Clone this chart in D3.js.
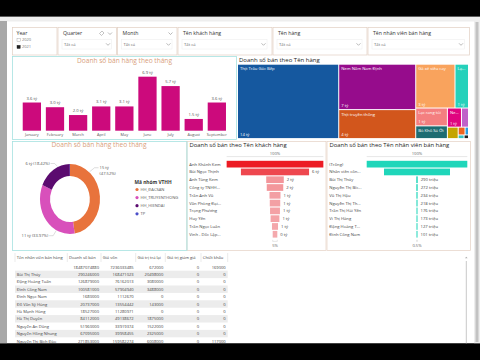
<!DOCTYPE html>
<html><head><meta charset="utf-8">
<script src="https://cdn.jsdelivr.net/npm/d3@7"></script>
<style>
html,body{margin:0;padding:0;background:#000;overflow:hidden}
svg{display:block}
</style></head><body>
<svg id="c" width="480" height="360"></svg>
<script>
// ---------------- DATA ----------------
const months = ["January","February","March","April","May","June","July","August","September"];
const monthSales = [3.6, 3.0, 2.0, 3.1, 3.1, 6.9, 5.7, 1.5, 3.6]; // tỷ

const products = ["Thịt Trâu Gác Bếp","Nem Nấm Nam Định","Thịt truyền thống","Gà xé siêu cay","Lạp xưởng","Lạc rang tỏi","Bò Khô Sả Ớt","Nem chua","Chả mực","Chà bông","Khô gà","Ruốc","Trà","Khác"];
const productSales = [14, 6.5, 4.15, 3.2, 1.1, 1.05, 0.75, 0.5, 0.25, 0.23, 0.1, 0.05, 0.04, 0.03]; // tỷ
const productColors = ["#15589f","#960c8c","#d2561c","#f9a35d","#25d1bb","#f47f80","#1e6c72","#e0047f","#c062c8","#c4a400","#ee641e","#2a9ee0","#33c5c5","#222222"];

const groups = ["HH_ĐACSAN","HH_TRUYENTHONG","HH_HIENDAI","TP"];
const groupSales = [15, 11, 6, 0.03]; // tỷ
const groupShare = [47.52, 33.97, 18.42, 0.09]; // %
const groupColors = ["#e8733c","#d850bb","#5b0b6f","#4b4fc9"];

const customers = ["Anh Khánh Kem","Bùi Ngọc Thịnh","Anh Tùng Kem","Công ty TNHH...","Trần Anh Vũ","Văn Phòng Đại...","Trọng Phương","Huy Yến","Trần Ngọc Luân","Vinh - Dốc Lập..."];
const customerSales = [8.8, 6.2, 1.6, 1.5, 1.0, 0.95, 0.9, 0.8, 0.55, 0.42]; // tỷ

const staff = ["(Trống)","Nhân viên côn...","Bùi Thị Thủy","Nguyễn Thị Bíc...","Vũ Thị Hậu","Nguyễn Thị Th...","Trần Thị Hải Yến","Vi Thị Hằng","Đặng Hoàng T...","Đinh Công Nam"];
const staffSales = [20000, 13120, 290, 272, 234, 218, 176, 173, 127, 101]; // triệu

const tableHeaders = ["Tên nhân viên bán hàng","Doanh số bán","Giá vốn","Giá trị trả lại","Giá trị giảm giá","Chiết khấu"];
const tableTotal = ["", "18487074880", "7236033485", "672000", "0", "169000"];
const tableNames = ["Bùi Thị Thủy","Đặng Hoàng Tuấn","Đinh Công Nam","Đinh Ngọc Nam","Đỗ Văn Sỹ Hùng","Hà Mạnh Hùng","Hà Thị Duyên","Nguyễn An Dũng","Nguyễn Hồng Nhung","Nguyễn Thị Bích Đào"];
const tableRevenue = [290246000, 126879000, 100581000, 1680000, 20737000, 18527000, 84112000, 51960000, 67095000, 271853000];
const tableCost = [168471023, 76162013, 57904940, 1112670, 13554442, 11280971, 49138672, 33919374, 39958455, 159582274];
const tableReturn = [20498000, 3080000, 3488000, 0, 143000, 0, 1875000, 1522000, 2325000, 6008000];
const tableDiscount = [0, 0, 0, 0, 0, 0, 0, 0, 0, 0];
const tableRebate = [0, 0, 0, 0, 0, 0, 0, 0, 0, 117000];

const slicerTitles = ["Quarter","Month","Tên khách hàng","Tên hàng","Tên nhân viên bán hàng"];
const years = ["2020","2021"];

// ---------------- HELPERS ----------------
const FONT = '"Segoe UI","Open Sans","Noto Sans",sans-serif';
const svg = d3.select("#c").style("font-family", FONT);
function txt(g, x, y, s, size, color, anchor, weight) {
  return g.append("text").attr("x", x).attr("y", y).text(s)
    .attr("font-size", size).attr("fill", color)
    .attr("text-anchor", anchor || "start").attr("font-weight", weight || "normal");
}
function chevron(g, x, y) {
  g.append("path").attr("d", `M${x-2},${y-1}L${x},${y+1}L${x+2},${y-1}`)
    .attr("fill", "none").attr("stroke", "#8a8a8a").attr("stroke-width", 0.6);
}

// ---------------- BACKGROUND ----------------
svg.append("rect").attr("width", 480).attr("height", 360).attr("fill", "#000");
svg.append("rect").attr("x", 0).attr("y", 16.5).attr("width", 480).attr("height", 327).attr("fill", "#fff");
svg.append("rect").attr("x", 0).attr("y", 16.5).attr("width", 480).attr("height", 5).attr("fill", "#eeeeee");
svg.append("rect").attr("x", 0).attr("y", 21).attr("width", 7).attr("height", 322.5).attr("fill", "#a8a8a8");
svg.append("rect").attr("x", 474).attr("y", 21).attr("width", 6).attr("height", 322.5).attr("fill", "#ededed");
svg.append("rect").attr("x", 475.5).attr("y", 22).attr("width", 3).attr("height", 320).attr("fill", "#c2c2c2");

// ---------------- SLICERS ----------------
const slicerG = svg.append("g");
const slicerEdges = [12, 57.5, 117, 177.5, 272.5, 367.5, 470];
slicerEdges.slice(0, -1).forEach((x0, i) => {
  const x1 = slicerEdges[i + 1];
  slicerG.append("rect").attr("x", x0 + 0.5).attr("y", 27.5).attr("width", x1 - x0 - 1).attr("height", 27.5)
    .attr("fill", "#fff").attr("stroke", "#e2cfc2").attr("stroke-width", 0.7);
});
// Year slicer
txt(slicerG, 16.5, 35, "Year", 5.2, "#333");
years.forEach((y, i) => {
  slicerG.append("rect").attr("x", 17).attr("y", 38.3 + i * 7).attr("width", 3.2).attr("height", 3.2)
    .attr("fill", i === 1 ? "#222" : "#fff").attr("stroke", i === 1 ? "#222" : "#999").attr("stroke-width", 0.4);
  txt(slicerG, 22, 41.3 + i * 7, y, 4, "#777");
});
slicerTitles.forEach((t, i) => {
  const x0 = slicerEdges[i + 1], x1 = slicerEdges[i + 2];
  txt(slicerG, x0 + 5.5, 35, t, 5.2, "#333");
  slicerG.append("rect").attr("x", x0 + 4.5).attr("y", 39.5).attr("width", x1 - x0 - 10).attr("height", 9.5)
    .attr("fill", "none").attr("stroke", "#ececec").attr("stroke-width", 0.5);
  txt(slicerG, x0 + 6.5, 45.8, "Tất cả", 4.2, "#666");
  chevron(slicerG, x1 - 9, 44.3);
  if (i < 2) chevron(slicerG, x1 - 7, 33.5);
});
// eraser icon on Quarter
slicerG.append("path").attr("d", "M99.5,33.5l2.5,-2.5l2,2l-2.5,2.5z").attr("fill", "none").attr("stroke", "#888").attr("stroke-width", 0.5);

// ---------------- BAR CHART ----------------
const barG = svg.append("g");
barG.append("rect").attr("x", 12.5).attr("y", 56.5).attr("width", 224).attr("height", 83)
  .attr("fill", "#fff").attr("stroke", "#a6e2e0").attr("stroke-width", 0.8);
txt(barG, 124.5, 63.3, "Doanh số bán hàng theo tháng", 6.6, "#d8a07c", "middle");
const xb = d3.scaleBand().domain(months).range([20.3, 228.4]).paddingInner(0.21).paddingOuter(0.105);
const yb = d3.scaleLinear().domain([0, 7]).range([130.7, 75.9]);
barG.selectAll("rect.bar").data(months).join("rect").attr("class", "bar")
  .attr("x", d => xb(d)).attr("width", xb.bandwidth())
  .attr("y", (d, i) => yb(monthSales[i])).attr("height", (d, i) => yb(0) - yb(monthSales[i]))
  .attr("fill", "#cc0a7c");
barG.selectAll("text.vl").data(months).join("text").attr("class", "vl")
  .attr("x", d => xb(d) + xb.bandwidth() / 2).attr("y", (d, i) => yb(monthSales[i]) - 3)
  .attr("text-anchor", "middle").attr("font-size", 4.2).attr("fill", "#555")
  .text((d, i) => d3.format(".1f")(monthSales[i]) + " tỷ");
const xAxis = d3.axisBottom(xb).tickSize(0).tickPadding(2.5);
const xg = barG.append("g").attr("transform", `translate(0,${yb(0)})`).call(xAxis);
xg.select(".domain").remove();
xg.selectAll("text").attr("font-size", 3.9).attr("fill", "#555").attr("font-family", FONT);

// ---------------- TREEMAP ----------------
const tmG = svg.append("g");
txt(tmG, 239, 62.2, "Doanh số bán theo Tên hàng", 6, "#252423");
const tmX = 238, tmY = 64.7;
const root = d3.hierarchy({ children: products.map((p, i) => ({ name: p, value: productSales[i], color: productColors[i] })) })
  .sum(d => d.value || 0).sort((a, b) => b.value - a.value);
d3.treemap().size([230, 73.4]).paddingInner(1).tile(d3.treemapSquarify)(root);
const cells = tmG.selectAll("g.cell").data(root.leaves()).join("g").attr("class", "cell")
  .attr("transform", d => `translate(${tmX + d.x0},${tmY + d.y0})`);
cells.append("rect").attr("width", d => d.x1 - d.x0).attr("height", d => d.y1 - d.y0).attr("fill", d => d.data.color);
cells.each(function (d) {
  const w = d.x1 - d.x0, h = d.y1 - d.y0, g = d3.select(this);
  if (w >= 12 && h >= 10) {
    const t = txt(g, 2, 5.6, d.data.name, 4.2, "#fff");
    let s = d.data.name;
    while (t.node().getComputedTextLength() > w - 3 && s.length > 1) {
      s = s.slice(0, -1);
      t.text(s.trimEnd() + "...");
    }
  }
  if (w >= 12 && h >= 16) txt(g, 2, h - 2, Math.round(d.data.value) + " tỷ", 4.2, "#fff");
});

// ---------------- DONUT ----------------
const dnG = svg.append("g");
dnG.append("rect").attr("x", 12.5).attr("y", 141.5).attr("width", 174.5).attr("height", 109)
  .attr("fill", "#fff").attr("stroke", "#a6e2e0").attr("stroke-width", 0.8);
txt(dnG, 99, 147, "Doanh số bán hàng theo tháng", 6.6, "#d8a07c", "middle");
const cx = 70, cy = 199, R = 30, sy = 35 / 30;
const pie = d3.pie().sort(null).value((d, i) => groupShare[i]);
const arcs = pie(groups);
const arc = d3.arc().innerRadius(19.8).outerRadius(R);
dnG.append("g").attr("transform", `translate(${cx},${cy}) scale(1,${sy})`)
  .selectAll("path").data(arcs).join("path").attr("d", arc).attr("fill", (d, i) => groupColors[i]);
// labels: angle on rim where the leader starts (layout), per visible slice
const labelAngles = [40, 207, 336];
[0, 1, 2].forEach(i => {
  const a = labelAngles[i] * Math.PI / 180;
  const px = cx + (R + 0.5) * Math.sin(a), py = cy - (R + 0.5) * sy * Math.cos(a);
  const right = Math.sin(a) > 0;
  const ex = px + (right ? 5 : -3), ey = py - (right ? 4 : 0) + (i === 1 ? 5 : 0) - (i === 2 ? 3 : 0);
  const lx = ex + (right ? 4 : -4);
  dnG.append("path").attr("d", `M${px},${py}L${ex},${ey}L${lx},${ey}`).attr("fill", "none").attr("stroke", "#aaa").attr("stroke-width", 0.4);
  const main = Math.round(groupSales[i]) + " tỷ", pct = "(" + groupShare[i].toFixed(2) + "%)";
  if (right) {
    txt(dnG, lx + 1, ey + 1, main, 4.1, "#555");
    txt(dnG, lx + 1, ey + 7, pct, 4.1, "#555");
  } else {
    txt(dnG, lx - 1, ey + 1.5, main + " " + pct, 4.1, "#555", "end");
  }
});
// legend
txt(dnG, 134.5, 183.5, "Mã nhóm VTHH", 4.8, "#333", "start", "bold");
groups.forEach((gname, i) => {
  const y = 189.5 + i * 8.1;
  dnG.append("circle").attr("cx", 137).attr("cy", y).attr("r", 1.6).attr("fill", groupColors[i]);
  txt(dnG, 140.5, y + 1.5, gname, 4.1, "#555");
});

// ---------------- FUNNELS ----------------
function funnel(g, x0, x1, title, names, vals, cxF, maxW, colorFn, fmt, firstLabel) {
  g.append("rect").attr("x", x0 + 0.5).attr("y", 141.5).attr("width", x1 - x0 - 1).attr("height", 109)
    .attr("fill", "#fff").attr("stroke", "#e4d1c4").attr("stroke-width", 0.7);
  txt(g, x0 + 3, 147, title, 5.9, "#252423");
  const w = d3.scaleLinear().domain([0, d3.max(vals)]).range([0, maxW]);
  const yr = d3.scaleBand().domain(d3.range(names.length)).range([160.8, 237.6]).paddingInner(0.14);
  txt(g, cxF, 154.8, "100%", 4.1, "#666", "middle");
  g.append("line").attr("x1", cxF - maxW / 2).attr("x2", cxF + maxW / 2).attr("y1", 156.6).attr("y2", 156.6)
    .attr("stroke", "#cfcfcf").attr("stroke-width", 0.5);
  g.selectAll("rect.fb").data(vals).join("rect").attr("class", "fb")
    .attr("x", d => cxF - Math.max(1, w(d)) / 2).attr("width", d => Math.max(1, w(d)))
    .attr("y", (d, i) => yr(i)).attr("height", yr.bandwidth()).attr("fill", colorFn);
  g.selectAll("text.fn").data(names).join("text").attr("class", "fn")
    .attr("x", x0 + 2.8).attr("y", (d, i) => yr(i) + yr.bandwidth() / 2 + 1.5)
    .attr("font-size", 4.2).attr("fill", "#444").text(d => d);
  g.selectAll("text.fv").data(vals).join("text").attr("class", "fv")
    .attr("x", d => cxF + Math.max(1, w(d)) / 2 + 3).attr("y", (d, i) => yr(i) + yr.bandwidth() / 2 + 1.5)
    .attr("font-size", 4.2).attr("fill", "#444").text((d, i) => i >= firstLabel ? fmt(d) : "");
  const last = vals[vals.length - 1], lw = Math.max(1, w(last));
  g.append("path").attr("d", `M${cxF - lw / 2},239.8v1.6h${lw}v-1.6`).attr("fill", "none").attr("stroke", "#c6c6c6").attr("stroke-width", 0.4);
  const p = last / vals[0] * 100;
  txt(g, cxF, 246.5, (p >= 1 ? Math.round(p) : p.toFixed(1)) + "%", 4.1, "#666", "middle");
}
const redScale = d3.scaleLinear().domain([d3.min(customerSales), d3.max(customerSales)]).range(["#f4a9ad", "#ec1b24"]);
funnel(svg.append("g"), 186.5, 326.5, "Doanh số bán theo Tên khách hàng", customers, customerSales, 275, 96.7,
  d => redScale(d), d => Math.round(d) + " tỷ", 1);
funnel(svg.append("g"), 326.5, 471, "Doanh số bán theo Tên nhân viên bán hàng", staff, staffSales, 417, 100.6,
  () => "#1fd6ba", d => Math.round(d) + " triệu", 2);
// left edge of funnel 1 panel in teal (shared with donut)
svg.append("line").attr("x1", 187).attr("x2", 187).attr("y1", 141.5).attr("y2", 250.5).attr("stroke", "#a6e2e0").attr("stroke-width", 0.8);

// ---------------- TABLE ----------------
const tbG = svg.append("g");
const colW = [52.3, 33.7, 34.7, 29.6, 35.7, 26.7];
const colX = [15];
colW.forEach((w, i) => colX.push(colX[i] + w));
const headY = 257.5, rowH = 7.4, row0 = 267;
tableHeaders.forEach((h, j) => {
  txt(tbG, colX[j] + 1.8, headY + 1.5, h, 4.1, "#444");
  tbG.append("line").attr("x1", colX[j + 1]).attr("x2", colX[j + 1]).attr("y1", headY - 4.5).attr("y2", headY + 4.5)
    .attr("stroke", "#d6d6d6").attr("stroke-width", 0.5);
});
tbG.append("line").attr("x1", colX[0]).attr("x2", colX[0]).attr("y1", headY - 4.5).attr("y2", headY + 4.5)
  .attr("stroke", "#d6d6d6").attr("stroke-width", 0.5);
const fmtN = d => String(d);
const rows = [tableTotal].concat(tableNames.map((n, i) => [n, fmtN(tableRevenue[i]), fmtN(tableCost[i]), fmtN(tableReturn[i]), fmtN(tableDiscount[i]), fmtN(tableRebate[i])]));
rows.forEach((r, i) => {
  const y = row0 + i * rowH;
  if (i % 2 === 1) tbG.append("rect").attr("x", colX[0]).attr("y", y - rowH / 2).attr("width", colX[6] - colX[0]).attr("height", rowH).attr("fill", "#ececec");
  r.forEach((v, j) => {
    if (j === 0) txt(tbG, colX[0] + 1.8, y + 1.5, v, 4.1, "#444");
    else txt(tbG, colX[j + 1] - 2, y + 1.5, v, 4.1, "#444", "end");
  });
});
// table scrollbar
tbG.append("path").attr("d", "M465,258.3l1.3,-1.6l1.3,1.6z").attr("fill", "#aaa");
tbG.append("line").attr("x1", 466.3).attr("x2", 466.3).attr("y1", 261).attr("y2", 344).attr("stroke", "#c8c8c8").attr("stroke-width", 1);

// bottom letterbox
svg.append("rect").attr("x", 0).attr("y", 343.5).attr("width", 480).attr("height", 16.5).attr("fill", "#000");
svg.append("rect").attr("x", 0).attr("y", 0).attr("width", 480).attr("height", 16.5).attr("fill", "#000");
</script>
</body></html>
